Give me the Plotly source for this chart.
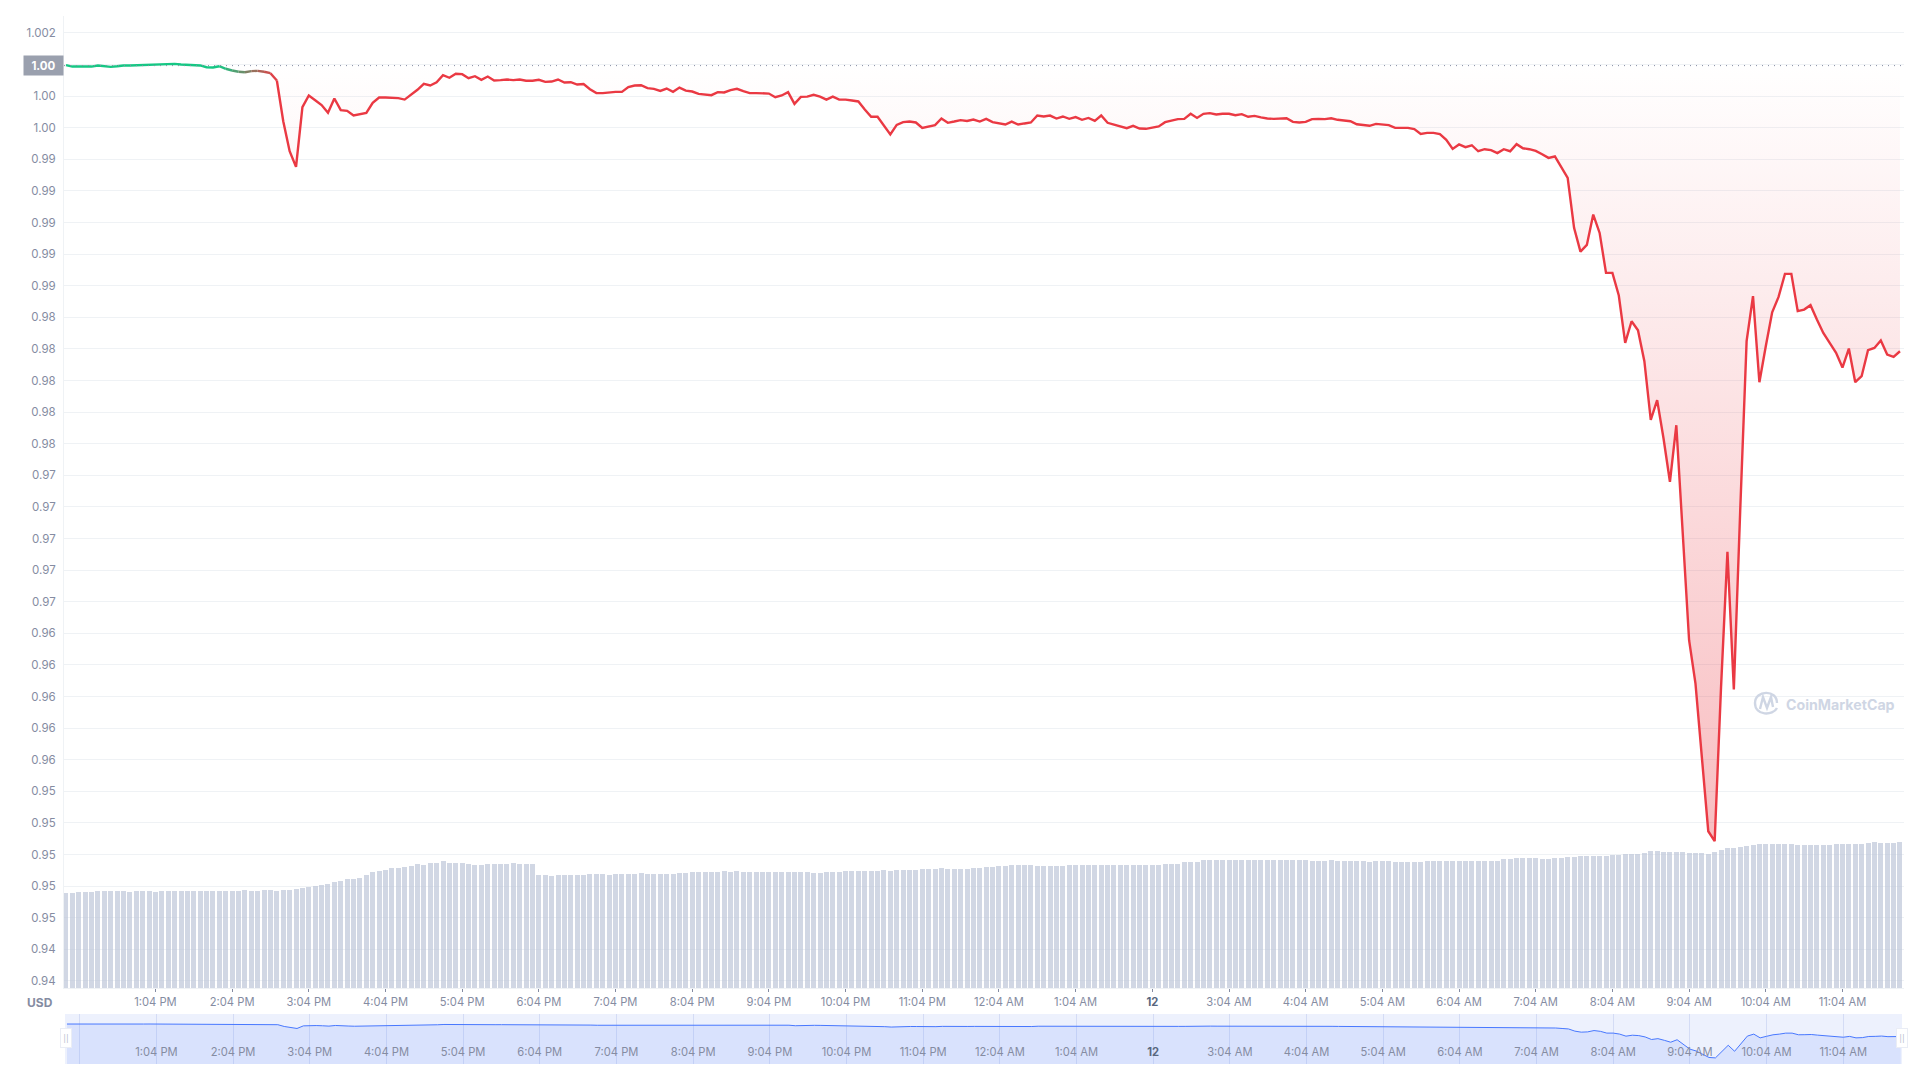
import pandas as pd
import plotly.graph_objects as go

price = [
 .99996,.99987,.99987,.99987,.99987,.99994,.99989,.99985,.99989,.99994,
 .99994,.99996,.99994,1.00000,1.00000,1.00000,1.00002,1.00004,1.00000,.99998,
 .99996,.99994,.99983,.99981,.99989,.99973,.99962,.99954,.99951,.99958,
 .99960,.99954,.99945,.99899,.99641,.99451,.99352,.99730,.99804,.99774,
 .99743,.99694,.99785,.99711,.99707,.99677,.99686,.99694,.99757,.99791,
 .99791,.99791,.99787,.99778,.99808,.99840,.99878,.99867,.99888,.99932,
 .99916,.99941,.99939,.99913,.99926,.99903,
 .99924,.99899,.99901,.99905,.99901,.99905,.99897,.99897,.99903,.99890,
 .99892,.99905,.99886,.99888,.99873,.99876,.99844,.99819,.99819,.99825,
 .99827,.99827,.99857,.99867,.99869,.99850,.99846,.99833,
 .99848,.99827,.99854,.99835,.99829,.99814,.99808,.99806,.99825,.99823,
 .99838,.99846,.99831,.99819,.99819,.99816,.99816,.99793,.99804,.99825,
 .99751,.99795,.99797,.99808,.99797,.99778,.99797,.99778,.99778,.99772,
 .99766,.99715,.99669,.99669,.99614,.99557,.99618,.99635,.99639,.99633,
 .99599,.99608,.99616,.99658,.99631,.99639,.99648,.99643,.99652,.99639,
 .99656,.99635,.99627,.99620,.99639,.99620,.99627,.99633,.99677,.99671,
 .99677,.99658,
 .99671,.99656,.99667,.99650,.99662,.99643,.99677,.99631,.99620,.99608,
 .99597,.99612,.99595,.99593,.99599,.99608,.99635,.99646,.99654,.99656,
 .99688,.99662,.99688,.99692,.99684,.99688,.99688,.99679,.99686,.99669,
 .99675,.99665,.99658,.99656,.99656,.99660,.99637,.99633,.99637,.99654,
 .99656,.99654,.99660,.99650,.99646,.99641,.99622,.99616,.99612,.99624,
 .99620,.99616,.99599,.99597,.99599,.99591,.99561,.99567,.99567,.99559,
 .99523,.99466,.99494,.99477,
 .99489,.99451,.99464,.99458,.99439,.99464,.99451,.99496,.99470,.99464,
 .99453,.99432,.99409,.99418,.99350,.99283,
 .98966,.98816,.98858,.99050,.98934,.98681,.98681,.98538,.98238,.98375,
 .98318,.98122,.97751,.97876,.97633,.97359,.97717,.97010,.96356,.96082,
 .95618,.95147,.95084,.96061,.96915,.96044,.97179,.98249,.98534,.97989,
 .98217,.98432,.98529,.98675,.98675,.98439,.98449,.98477,.98386,.98301,
 .98238,.98175,.98082,.98202,.97989,.98027,.98192,.98206,.98253,.98164,
 .98150,.98185,
]

volume = [
 9.5,9.5,9.6,9.6,9.6,9.7,9.7,9.7,9.7,9.7,9.6,9.7,9.7,9.7,9.6,
 9.7,9.7,9.7,9.7,9.7,9.7,9.7,9.7,9.7,9.7,9.7,9.7,9.7,9.8,9.7,9.7,
 9.8,9.8,9.7,9.8,9.8,9.9,10.0,10.1,10.2,10.3,10.4,10.6,10.7,10.9,10.9,
 11.0,11.3,11.6,11.7,11.8,12.0,12.0,12.1,12.2,12.4,12.3,12.5,12.5,12.7,
 12.5,12.5,12.5,12.4,12.3,12.3,12.4,12.4,12.4,12.4,12.5,12.4,12.4,12.4,
 11.3,11.3,11.2,11.3,11.3,11.3,11.3,11.3,11.4,11.4,11.4,11.3,11.4,11.4,
 11.4,11.4,11.5,11.4,11.4,11.4,11.4,11.4,11.5,
 11.5,11.6,11.6,11.6,11.6,11.6,11.7,11.6,11.7,11.6,11.6,11.6,11.6,11.6,
 11.6,11.6,11.6,11.6,11.6,11.6,11.5,11.5,11.6,11.6,11.6,11.7,11.7,11.7,
 11.7,11.7,11.7,11.8,11.7,11.8,11.8,11.8,11.8,11.9,11.9,11.9,12.0,11.9,
 11.9,11.9,11.9,12.0,12.0,12.1,12.1,12.2,12.2,12.3,12.3,12.3,12.3,12.2,
 12.2,12.2,12.2,12.2,12.3,12.3,12.3,12.3,12.3,12.3,12.3,12.3,12.3,12.3,
 12.3,12.3,12.3,12.3,12.3,12.4,12.4,12.4,12.6,12.6,12.6,
 12.8,12.8,12.8,12.8,12.8,12.8,12.8,12.8,12.8,12.8,12.8,12.8,12.8,12.8,12.8,
 12.8,12.8,12.7,12.7,12.7,12.8,12.7,12.7,12.7,12.7,12.7,12.6,12.7,12.7,12.7,
 12.6,12.6,12.6,12.6,12.6,12.7,12.7,12.7,12.7,12.7,12.7,12.7,12.7,12.7,12.7,
 12.7,12.7,12.9,12.9,13.0,13.0,13.0,13.0,12.9,12.9,13.0,13.0,13.1,13.1,13.2,
 13.2,13.2,13.2,13.2,13.3,13.3,13.4,13.4,13.4,13.5,13.7,13.7,13.6,13.6,13.6,
 13.6,13.5,13.5,13.5,13.4,13.6,13.8,14.0,14.0,14.1,14.2,14.3,14.4,14.4,14.4,
 14.4,14.4,14.4,14.3,14.3,14.3,14.3,14.3,14.3,14.4,14.4,14.4,14.4,14.4,14.5,
 14.6,14.5,14.5,14.5,14.6,
]
volume = volume[:len(price)] + [volume[-1]] * max(0, len(price) - len(volume))

price_ticks = [1.002, 1.000, .998, .996, .994, .992, .990, .988, .986, .984, .982, .980, .978, .976,
               .974, .972, .970, .968, .966, .964, .962, .960, .958, .956, .954, .952, .950, .948,
               .946, .944, .942]
price_labels = ["1.002", "1.00", "1.00", "1.00", "0.99", "0.99", "0.99", "0.99", "0.99", "0.98", "0.98",
                "0.98", "0.98", "0.98", "0.97", "0.97", "0.97", "0.97", "0.97", "0.96", "0.96", "0.96",
                "0.96", "0.96", "0.95", "0.95", "0.95", "0.95", "0.95", "0.94", "0.94"]

time_ticks = ["2022-05-11 13:04", "2022-05-11 14:04", "2022-05-11 15:04", "2022-05-11 16:04",
              "2022-05-11 17:04", "2022-05-11 18:04", "2022-05-11 19:04", "2022-05-11 20:04",
              "2022-05-11 21:04", "2022-05-11 22:04", "2022-05-11 23:04", "2022-05-12 00:04",
              "2022-05-12 01:04", "2022-05-12 02:04", "2022-05-12 03:04", "2022-05-12 04:04",
              "2022-05-12 05:04", "2022-05-12 06:04", "2022-05-12 07:04", "2022-05-12 08:04",
              "2022-05-12 09:04", "2022-05-12 10:04", "2022-05-12 11:04"]
DAY = '<span style="color:#58667e"><b>12</b></span>'
time_labels = ["1:04 PM", "2:04 PM", "3:04 PM", "4:04 PM", "5:04 PM", "6:04 PM", "7:04 PM", "8:04 PM",
               "9:04 PM", "10:04 PM", "11:04 PM", "12:04 AM", "1:04 AM", DAY, "3:04 AM", "4:04 AM",
               "5:04 AM", "6:04 AM", "7:04 AM", "8:04 AM", "9:04 AM", "10:04 AM", "11:04 AM"]
open_price = .99993
green_end = 24
red_start = 33

times = pd.date_range("2022-05-11 11:54", periods=len(price), freq="5min")

GRAY = "#858ca2"
GRID = "#eff2f5"
FONT = "Inter"
LINE_W = 2.4
L, R, T, B = 64, 16, 16, 16
PW, PH = 1920 - L - R, 1080 - T - B


def px_x(x):
    return (x - L) / PW


def px_y(y):
    return (1080 - B - y) / PH


def blend(t):
    a, b = (22, 199, 132), (234, 57, 67)
    return "rgb(%d,%d,%d)" % tuple(round(a[k] + (b[k] - a[k]) * t) for k in range(3))


fig = go.Figure()
fig.add_trace(go.Bar(x=times, y=volume, width=235000, marker=dict(color="rgba(184,194,214,0.65)", line_width=0),
                     xaxis="x", yaxis="y", hoverinfo="skip"))
fig.add_trace(go.Scatter(x=times, y=[open_price] * len(price), mode="lines", line=dict(width=0),
                         xaxis="x", yaxis="y2", hoverinfo="skip"))
fig.add_trace(go.Scatter(x=times, y=price, mode="lines", line=dict(width=0), fill="tonexty",
                         fillgradient=dict(type="vertical", start=.951, stop=1.0,
                                           colorscale=[[0, "rgba(234,57,67,0.33)"], [1, "rgba(234,57,67,0)"]]),
                         xaxis="x", yaxis="y2", hoverinfo="skip"))
fig.add_trace(go.Scatter(x=times[:green_end + 1], y=price[:green_end + 1], mode="lines",
                         line=dict(color=blend(0), width=LINE_W), xaxis="x", yaxis="y2"))
for k in range(green_end, red_start):
    t = (k - green_end + 0.5) / (red_start - green_end)
    fig.add_trace(go.Scatter(x=times[k:k + 2], y=price[k:k + 2], mode="lines",
                             line=dict(color=blend(t), width=LINE_W), xaxis="x", yaxis="y2"))
fig.add_trace(go.Scatter(x=times[red_start:], y=price[red_start:], mode="lines",
                         line=dict(color=blend(1), width=LINE_W), xaxis="x", yaxis="y2"))
fig.add_trace(go.Scatter(x=times, y=price, mode="lines", line=dict(color="#4878ff", width=1),
                         fill="tozeroy", fillcolor="rgba(72,120,255,0.12)", xaxis="x2", yaxis="y3"))

step = pd.Timedelta(minutes=5)
main_range = [times[0] - 0.31 * step, times[0] + 287.63 * step]
nav_range = [times[0] - 0.31 * step, times[0] + 287.2 * step]
main_bottom = px_y(988)

shapes = [
    dict(type="rect", xref="paper", yref="paper", x0=px_x(65), x1=px_x(1902), y0=px_y(1064), y1=px_y(1014),
         fillcolor="#edf1fd", line_width=0, layer="below"),
    dict(type="line", xref="paper", yref="y2", x0=0, x1=1, y0=open_price, y1=open_price,
         line=dict(color=GRAY, width=1, dash="1px,5px")),
    # CoinMarketCap watermark
    dict(type="path", xref="paper", yref="paper",
         path="M %f %f C %f %f %f %f %f %f" % (px_x(1777), px_y(708), px_x(1773), px_y(716), px_x(1755), px_y(716),
                                                px_x(1755), px_y(703)),
         line=dict(color="#cfd6e4", width=2.4)),
    dict(type="path", xref="paper", yref="paper",
         path="M %f %f C %f %f %f %f %f %f" % (px_x(1755), px_y(703), px_x(1755), px_y(690), px_x(1777), px_y(689),
                                                px_x(1777), px_y(703)),
         line=dict(color="#cfd6e4", width=2.4)),
    dict(type="path", xref="paper", yref="paper",
         path="M %f %f L %f %f L %f %f L %f %f L %f %f" % (px_x(1760), px_y(709), px_x(1763), px_y(697), px_x(1767), px_y(708),
                                                           px_x(1771), px_y(697), px_x(1773), px_y(707)),
         line=dict(color="#cfd6e4", width=2.4)),
]

annotations = [
    dict(xref="paper", yref="y2", x=0, y=open_price, xanchor="right", yanchor="middle", text="<b>1.00</b>",
         showarrow=False, bgcolor="#9aa0ae", width=37, height=17, font=dict(family=FONT, size=11.5, color="#ffffff")),
    dict(xref="paper", yref="paper", x=px_x(54.5), y=px_y(1002), xanchor="right", yanchor="middle", text="<b>USD</b>",
         showarrow=False, font=dict(family=FONT, size=12, color=GRAY)),
    dict(xref="paper", yref="paper", x=px_x(1784), y=px_y(704), xanchor="left", yanchor="middle", text="<b>CoinMarketCap</b>",
         showarrow=False, font=dict(family="Inter", size=14.2, color="#cfd6e4")),
]
for hx in (65.5, 1902):
    annotations.append(dict(xref="paper", yref="paper", x=px_x(hx), y=px_y(1038), xanchor="center", yanchor="middle",
                            text="||", showarrow=False, bgcolor="#ffffff", bordercolor="#eaedf5", borderwidth=1,
                            width=8, height=16, font=dict(family="DejaVu Sans", size=8, color="#b8bfd0")))

fig.update_layout(
    width=1920, height=1080, showlegend=False, paper_bgcolor="#ffffff", plot_bgcolor="rgba(0,0,0,0)",
    margin=dict(l=L, r=R, t=T, b=B), font=dict(family=FONT, size=12, color=GRAY),
    bargap=0, barmode="overlay", shapes=shapes, annotations=annotations,
    xaxis=dict(domain=[0, 1], anchor="y", type="date", range=main_range, tickmode="array", tickvals=time_ticks,
               ticktext=time_labels, ticks="outside", ticklen=3, tickcolor=GRAY, tickwidth=1, showgrid=False,
               showline=True, linecolor=GRID, linewidth=1, zeroline=False, tickangle=0, ticklabelstandoff=1,
               tickfont=dict(family=FONT, size=11.2, color=GRAY)),
    yaxis=dict(domain=[main_bottom, 1], anchor="x", range=[0, 97.2], showticklabels=False, showgrid=False,
               zeroline=False, showline=False),
    yaxis2=dict(domain=[main_bottom, 1], anchor="x", overlaying="y", side="left", range=[.94155, 1.00307],
                tickmode="array", tickvals=price_ticks, ticktext=price_labels, showgrid=True, gridcolor=GRID,
                gridwidth=1, zeroline=False, showline=True, linecolor=GRID, linewidth=1, ticks="",
                ticklabelstandoff=5, tickfont=dict(family=FONT, size=11.5, color=GRAY)),
    xaxis2=dict(domain=[px_x(65), px_x(1902)], anchor="y3", type="date", range=nav_range, tickmode="array",
                tickvals=["2022-05-11 12:04"] + time_ticks, ticktext=[""] + time_labels,
                ticklabelposition="inside", ticks="", showgrid=True, gridcolor="#d4dcf5", gridwidth=1, zeroline=False,
                showline=False, tickangle=0, ticklabelstandoff=3, tickfont=dict(family=FONT, size=11.2, color=GRAY)),
    yaxis3=dict(domain=[0, px_y(1014)], anchor="x2", range=[.942, 1.0145], showticklabels=False, showgrid=False,
                zeroline=False, showline=False),
)

fig.write_html("out.html", config={"displayModeBar": False},
               post_script="document.body.style.margin='0';document.body.style.overflow='hidden';")
